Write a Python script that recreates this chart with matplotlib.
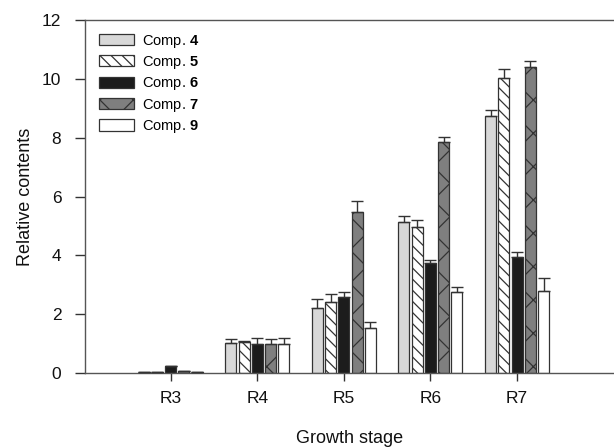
import numpy as np
import matplotlib
matplotlib.use("Agg")
import matplotlib.pyplot as plt

plt.rcParams['font.family'] = ['Liberation Sans', 'DejaVu Sans']
plt.rcParams['mathtext.fontset'] = 'custom'
plt.rcParams['mathtext.rm'] = 'Liberation Sans'
plt.rcParams['mathtext.bf'] = 'Liberation Sans:bold'
plt.rcParams['hatch.linewidth'] = 0.9

stages = ['R3', 'R4', 'R5', 'R6', 'R7']
labels = ['Comp. $\\mathbf{4}$', 'Comp. $\\mathbf{5}$', 'Comp. $\\mathbf{6}$',
          'Comp. $\\mathbf{7}$', 'Comp. $\\mathbf{9}$']

comp4 = [0.03, 1.02, 2.22, 5.15, 8.75]
comp5 = [0.03, 1.05, 2.43, 4.98, 10.02]
comp6 = [0.24, 1.00, 2.60, 3.73, 3.93]
comp7 = [0.07, 1.00, 5.46, 7.84, 10.42]
comp9 = [0.02, 1.00, 1.53, 2.74, 2.78]

err4 = [0.0, 0.13, 0.30, 0.20, 0.20]
err5 = [0.0, 0.05, 0.26, 0.22, 0.32]
err6 = [0.0, 0.20, 0.14, 0.11, 0.17]
err7 = [0.0, 0.15, 0.40, 0.17, 0.18]
err9 = [0.0, 0.20, 0.22, 0.20, 0.45]

values = [comp4, comp5, comp6, comp7, comp9]
errors = [err4, err5, err6, err7, err9]
faces = ['#d8d8d8', 'white', '#1c1c1c', '#7f7f7f', 'white']
hatches = ['', '\\\\\\', '', 'x', '']

fig = plt.figure(figsize=(6.14, 4.47), dpi=100)
ax = fig.add_axes([0.1384, 0.1655, 0.8616, 0.7897])

x = np.arange(1, len(stages) + 1)
pitch = 0.153
width = 0.127
for i, (v, e) in enumerate(zip(values, errors)):
    pos = x + (i - 2) * pitch
    ax.bar(pos, v, width, color=faces[i], edgecolor='#333333', linewidth=0.9,
           hatch=hatches[i], label=labels[i], zorder=2)
    ax.errorbar(pos, v, yerr=[np.zeros(len(e)), e], fmt='none', ecolor='#333333',
                elinewidth=1.0, capsize=4, capthick=1.0, zorder=3)

ax.set_xlim(0.01, 6.12)
ax.set_ylim(0, 12)
ax.set_yticks(range(0, 13, 2))
ax.set_xticks(x, labels=stages)
ax.tick_params(axis='both', direction='out', length=6, width=1, colors='#333333',
               labelsize=12.5, labelcolor='#111111')
ax.tick_params(axis='x', pad=7)
ax.tick_params(axis='y', length=7, pad=10)
for s in ['left', 'bottom', 'top']:
    ax.spines[s].set_color('#555555')
    ax.spines[s].set_linewidth(1.0)
ax.spines['right'].set_visible(False)

ax.set_ylabel('Relative contents', fontsize=13, labelpad=6, color='#111111')
ax.set_xlabel('Growth stage', fontsize=13, labelpad=17, color='#111111')

ax.legend(loc='upper left', frameon=False, fontsize=10.5, handlelength=2.4,
          handleheight=0.8, labelspacing=0.3, handletextpad=0.6,
          borderaxespad=0.1, bbox_to_anchor=(0.012, 0.985))

fig.savefig('out.png', dpi=100)
